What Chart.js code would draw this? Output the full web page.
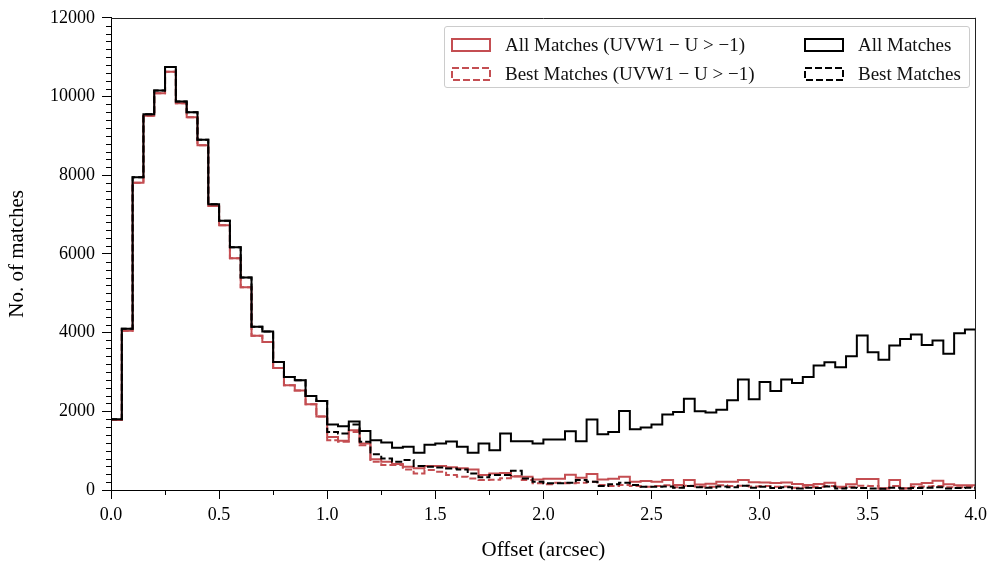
<!DOCTYPE html>
<html>
<head>
<meta charset="utf-8">
<script src="https://cdn.jsdelivr.net/npm/chart.js@4.4.1/dist/chart.umd.min.js"></script>
<style>
  html, body { margin: 0; padding: 0; background: #fff; }
  #wrap { position: relative; width: 992px; height: 565px; }
  #legend {
    position: absolute; left: 444px; top: 26px; width: 526px; height: 62px;
    box-sizing: border-box; border: 1px solid #cccccc; border-radius: 3px;
    background: rgba(255, 255, 255, 0.85);
    font-family: 'Liberation Serif', serif; font-size: 19px; color: #111;
  }
  .item { position: absolute; display: flex; align-items: center; white-space: nowrap; }
  .item svg { margin-right: 14px; }
</style>
</head>
<body>
<div id="wrap">
  <canvas id="histChart" width="992" height="565"></canvas>
  <div id="legend"></div>
</div>
<script>
  // bin edges run 0 .. 4.0 arcsec in steps of 0.05
  const binWidth = 0.05;
  const xTickLabels = ['0.0', '0.5', '1.0', '1.5', '2.0', '2.5', '3.0', '3.5', '4.0'];
  const yTickLabels = ['0', '2000', '4000', '6000', '8000', '10000', '12000'];

  // All Matches (black, solid)
  const allMatches = [
    1800, 4100, 7950, 9550, 10150, 10750, 9870, 9600, 8900, 7260,
    6840, 6170, 5400, 4150, 4030, 3250, 2870, 2790, 2390, 2260,
    1663, 1620, 1739, 1502, 1266, 1207, 1072, 1097, 945, 1148,
    1182, 1232, 1097, 945, 1182, 1013, 1435, 1241, 1241, 1182,
    1283, 1283, 1494, 1241, 1789, 1418, 1477, 2009, 1545, 1587,
    1663, 1916, 1983, 2321, 2000, 1967, 2042, 2279, 2810, 2304,
    2743, 2515, 2810, 2717, 2869, 3165, 3249, 3122, 3401, 3924,
    3502, 3308, 3671, 3840, 3949, 3688, 3797, 3460, 3983, 4076
  ];
  // Best Matches (black, dashed)
  const bestMatches = [
    1800, 4100, 7950, 9550, 10150, 10750, 9870, 9600, 8900, 7260,
    6840, 6170, 5400, 4150, 4030, 3250, 2870, 2790, 2390, 2260,
    1477, 1435, 1663, 1224, 911, 802, 717, 760, 608, 591,
    574, 549, 523, 422, 321, 380, 380, 490, 295, 211,
    169, 169, 186, 253, 211, 101, 143, 186, 127, 84,
    80, 90, 60, 100, 70, 60, 90, 70, 110, 60,
    80, 50, 70, 40, 60, 50, 90, 40, 60, 50,
    40, 30, 60, 40, 50, 60, 70, 40, 50, 60
  ];
  // All Matches (UVW1 - U > -1) (red, solid)
  const allMatchesUV = [
    1780, 4050, 7810, 9510, 10080, 10630, 9830, 9470, 8760, 7215,
    6730, 5890, 5150, 3920, 3760, 3100, 2660, 2530, 2180, 1870,
    1350, 1250, 1520, 1180, 780, 720, 660, 590, 550, 610,
    610, 575, 550, 520, 380, 420, 430, 340, 338, 270,
    287, 287, 388, 312, 405, 270, 287, 338, 211, 228,
    211, 253, 130, 253, 140, 160, 211, 211, 253, 200,
    190, 180, 190, 150, 127, 150, 186, 84, 143, 279,
    279, 42, 253, 42, 143, 177, 236, 143, 118, 118
  ];
  // Best Matches (UVW1 - U > -1) (red, dashed)
  const bestMatchesUV = [
    1780, 4050, 7810, 9510, 10080, 10630, 9830, 9470, 8760, 7215,
    6730, 5890, 5150, 3920, 3760, 3100, 2660, 2530, 2180, 1870,
    1266, 1224, 1477, 1139, 717, 633, 633, 523, 422, 506,
    464, 380, 338, 290, 253, 260, 300, 350, 253, 169,
    143, 186, 169, 186, 211, 127, 101, 127, 101, 84,
    100, 120, 70, 110, 90, 80, 120, 100, 110, 90,
    100, 80, 90, 60, 70, 80, 100, 60, 80, 110,
    100, 40, 100, 40, 80, 90, 100, 70, 70, 80
  ];

  const RED = '#c44e52';
  const BLACK = '#000000';
  const FONT = 'Liberation Serif';

  // histogram outline: rise from 0 at the first edge, drop to 0 at the last
  function toSteps(values) {
    const pts = [{ x: 0, y: 0 }];
    values.forEach((v, i) => pts.push({ x: i * binWidth, y: v }));
    const end = values.length * binWidth;
    pts.push({ x: end, y: values[values.length - 1] });
    pts.push({ x: end, y: 0 });
    return pts;
  }

  function series(label, values, color, dashed, order) {
    return {
      label,
      data: toSteps(values),
      stepped: 'before',
      borderColor: color,
      backgroundColor: 'transparent',
      borderWidth: 2,
      borderDash: dashed ? [7, 3] : [],
      borderJoinStyle: 'miter',
      pointRadius: 0,
      fill: false,
      order
    };
  }

  const datasets = [
    series('All Matches', allMatches, BLACK, false, 0),
    series('Best Matches', bestMatches, BLACK, true, 1),
    series('All Matches (UVW1 \u2212 U > \u22121)', allMatchesUV, RED, false, 2),
    series('Best Matches (UVW1 \u2212 U > \u22121)', bestMatchesUV, RED, true, 3)
  ];

  const minorTicks = {
    id: 'minorTicks',
    afterDraw(chart) {
      const { ctx, chartArea: a, scales: { x, y } } = chart;
      ctx.save();
      ctx.strokeStyle = '#000';
      ctx.lineWidth = 1;
      ctx.beginPath();
      for (let v = 0.25; v < 4; v += 0.5) {
        const px = Math.round(x.getPixelForValue(v)) + 0.5;
        ctx.moveTo(px, a.bottom);
        ctx.lineTo(px, a.bottom + 5);
      }
      for (let v = 200; v < 12000; v += 200) {
        if (v % 2000 === 0) continue;
        const py = Math.round(y.getPixelForValue(v)) + 0.5;
        ctx.moveTo(a.left, py);
        ctx.lineTo(a.left - 5, py);
      }
      ctx.stroke();
      // top and right spines
      ctx.strokeStyle = '#222';
      ctx.beginPath();
      ctx.moveTo(a.left, Math.round(a.top) + 0.5);
      ctx.lineTo(a.right, Math.round(a.top) + 0.5);
      ctx.moveTo(Math.round(a.right) - 0.5, a.top);
      ctx.lineTo(Math.round(a.right) - 0.5, a.bottom);
      ctx.stroke();
      ctx.restore();
    }
  };

  new Chart(document.getElementById('histChart'), {
    type: 'line',
    data: { datasets },
    options: {
      responsive: false,
      animation: false,
      devicePixelRatio: 1,
      layout: { padding: { top: 16, right: 13, left: 0, bottom: 0 } },
      plugins: { legend: { display: false }, tooltip: { enabled: false } },
      scales: {
        x: {
          type: 'linear',
          min: 0,
          max: 4,
          ticks: {
            stepSize: 0.5,
            autoSkip: false,
            maxRotation: 0,
            padding: 5,
            color: '#000',
            font: { family: FONT, size: 18 },
            callback: (v, i) => xTickLabels[i]
          },
          grid: { drawOnChartArea: false, drawTicks: true, tickLength: 9, tickColor: '#000' },
          border: { display: true, color: '#000', width: 1 },
          title: {
            display: true,
            text: 'Offset (arcsec)',
            color: '#000',
            font: { family: FONT, size: 21 },
            padding: { top: 0, bottom: 2 }
          },
          afterFit: s => { s.height = 75; }
        },
        y: {
          min: 0,
          max: 12000,
          ticks: {
            stepSize: 2000,
            padding: 7,
            color: '#000',
            font: { family: FONT, size: 18 },
            callback: (v, i) => yTickLabels[i]
          },
          grid: { drawOnChartArea: false, drawTicks: true, tickLength: 9, tickColor: '#000' },
          border: { display: true, color: '#000', width: 1 },
          title: {
            display: true,
            text: 'No. of matches',
            color: '#000',
            font: { family: FONT, size: 21 },
            padding: { top: 5, bottom: 0 }
          },
          afterFit: s => { s.width = 111; }
        }
      }
    },
    plugins: [minorTicks]
  });

  // legend, laid out in two columns like the original
  const legendItems = [
    { text: 'All Matches (UVW1 \u2212 U > \u22121)', color: RED, dashed: false, left: 6, top: 7 },
    { text: 'Best Matches (UVW1 \u2212 U > \u22121)', color: RED, dashed: true, left: 6, top: 36 },
    { text: 'All Matches', color: BLACK, dashed: false, left: 359, top: 7 },
    { text: 'Best Matches', color: BLACK, dashed: true, left: 359, top: 36 }
  ];
  const legend = document.getElementById('legend');
  legendItems.forEach(it => {
    const el = document.createElement('div');
    el.className = 'item';
    el.style.left = it.left + 'px';
    el.style.top = it.top + 'px';
    el.innerHTML =
      '<svg width="40" height="16"><rect x="1" y="2" width="38" height="12" fill="none" stroke="' +
      it.color + '" stroke-width="2"' + (it.dashed ? ' stroke-dasharray="7 3"' : '') + '/></svg>' +
      '<span></span>';
    el.querySelector('span').textContent = it.text;
    legend.appendChild(el);
  });
</script>
</body>
</html>
